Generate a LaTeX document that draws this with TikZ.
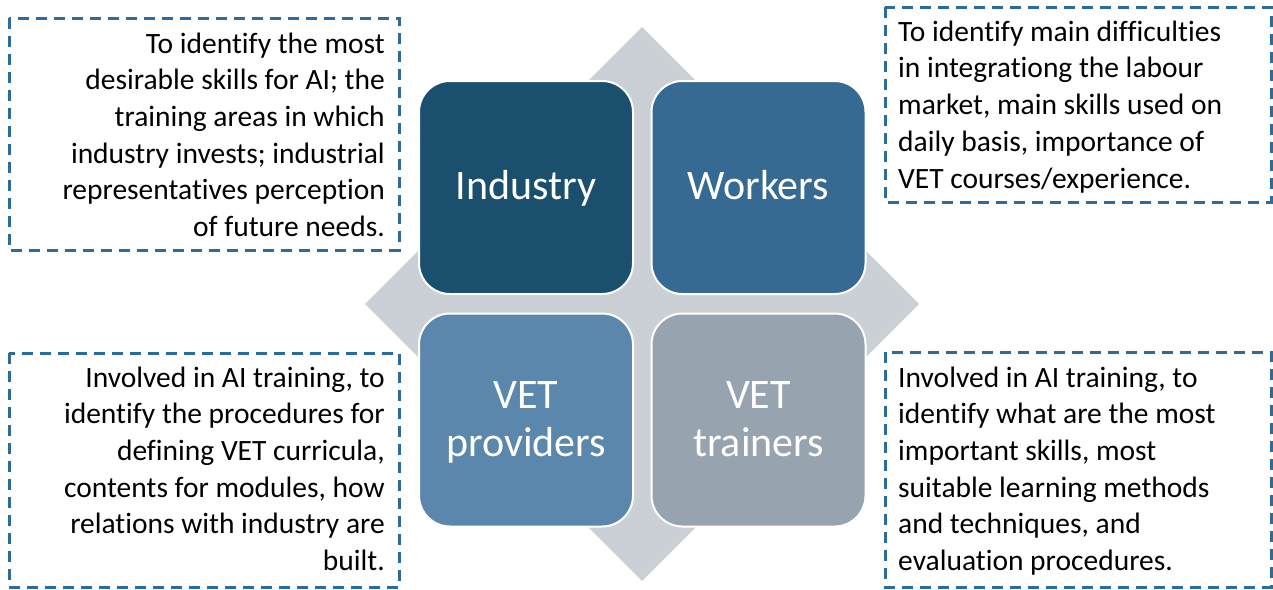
\documentclass[tikz,border=0pt]{standalone}
\usepackage{fontspec}
\setmainfont{Carlito}[Ligatures=NoCommon]
\definecolor{cInd}{HTML}{1B4F6E}
\definecolor{cWork}{HTML}{366A93}
\definecolor{cProv}{HTML}{5B87AC}
\definecolor{cTrain}{HTML}{98A3B0}
\definecolor{cDiam}{HTML}{CBD0D7}
\definecolor{cDash}{HTML}{2C6B9C}
\begin{document}
\begin{tikzpicture}[x=1pt,y=-1pt,
  tile/.style={draw=white,line width=2pt,rounded corners=31pt,minimum width=214pt,minimum height=213pt,inner sep=0pt},
  tilelabel/.style={text=white,font=\fontsize{42}{48}\selectfont,align=center,inner sep=0pt},
  dashbox/.style={draw=cDash,line width=3pt,dash pattern=on 11pt off 7pt},
  desc/.style={font=\fontsize{29.5}{36.7}\selectfont,inner sep=0pt}
]
\useasboundingbox (0,0) rectangle (1273,589);
% diamond background
\fill[cDiam] (642,27) -- (919,304) -- (642,581) -- (365,304) -- cycle;
% tiles
\node[tile,fill=cInd] (ind) at (526,187.5) {};
\node[tile,fill=cWork] (work) at (758.5,187.5) {};
\node[tile,fill=cProv] (prov) at (526,420) {};
\node[tile,fill=cTrain] (train) at (758.5,420) {};
\node[tilelabel,anchor=base] (indl) at (526,199) {Industry};
\node[tilelabel,anchor=base] (workl) at (758.5,199) {Workers};
\node[tilelabel,anchor=base] (provl) at (526,456) {VET\\providers};
\node[tilelabel,anchor=base] (trainl) at (758.5,456) {VET\\trainers};
% dashed frames
\draw[dashbox] (9,18) rectangle (399,250);
\draw[dashbox] (885,7) rectangle (1271,202);
\draw[dashbox] (9,353) rectangle (399,587);
\draw[dashbox] (885,352) rectangle (1271,587);
% descriptions (anchored at the baseline of the last line)
\node[desc,align=right,anchor=base east] (tl) at (385,236.5) {To identify the most\\desirable skills for AI; the\\training areas in which\\industry invests; industrial\\representatives perception\\of future needs.};
\node[desc,align=left,anchor=base west] (tr) at (898,188) {To identify main difficulties\\in integrationg the labour\\market, main skills used on\\daily basis, importance of\\VET courses/experience.};
\node[desc,align=right,anchor=base east] (bl) at (385,570.5) {Involved in AI training, to\\identify the procedures for\\defining VET curricula,\\contents for modules, how\\relations with industry are\\built.};
\node[desc,align=left,anchor=base west] (br) at (898,570.5) {Involved in AI training, to\\identify what are the most\\important skills, most\\suitable learning methods\\and techniques, and\\evaluation procedures.};
\end{tikzpicture}
\end{document}
